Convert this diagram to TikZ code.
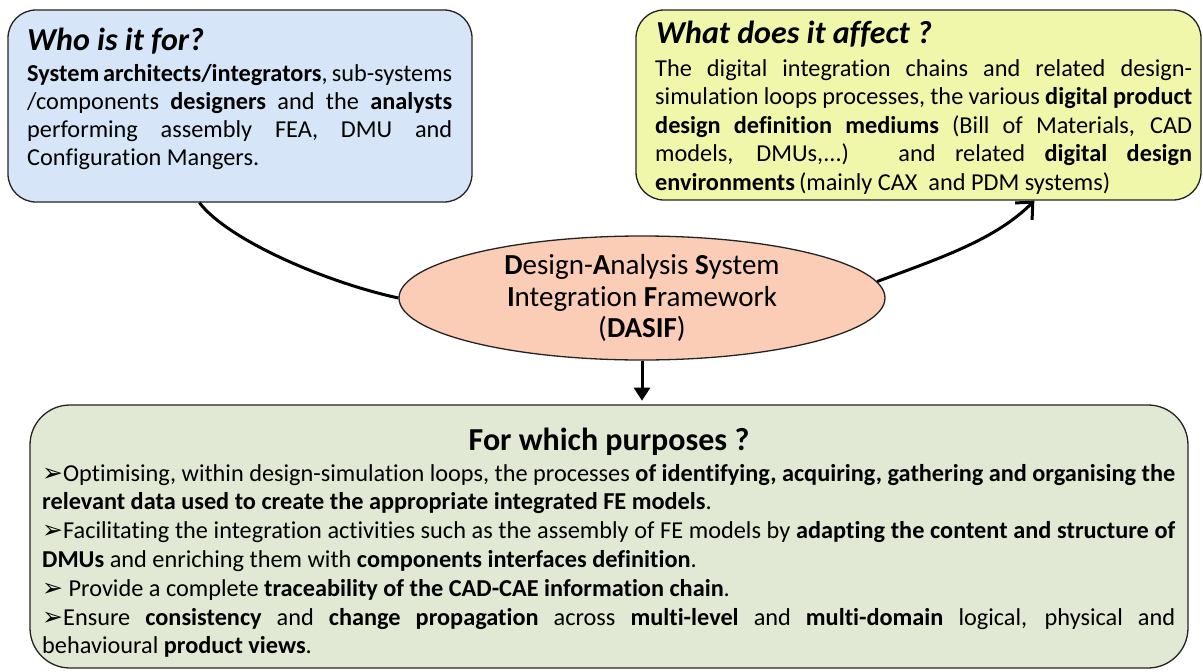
\documentclass[tikz,border=0pt]{standalone}
\usepackage{fontspec}
\setmainfont{Carlito}[Ligatures=NoCommon]
\newfontfamily\symfont{DejaVu Sans}
\usetikzlibrary{arrows.meta,shapes.geometric,calc}
\definecolor{boxblue}{RGB}{214,230,248}
\definecolor{boxyellow}{RGB}{240,247,170}
\definecolor{ellpeach}{RGB}{251,205,182}
\definecolor{boxgreen}{RGB}{225,232,211}
\definecolor{edgegray}{RGB}{35,35,35}
\newcommand{\blt}{{\symfont\fontsize{25}{25}\selectfont ➢}}
\newcommand{\jline}[1]{\makebox[\linewidth][s]{#1}\\}
\tikzset{
  panel/.style={draw=edgegray, line width=1.3pt, rounded corners=#1, inner sep=0pt},
  txt/.style={inner sep=0pt, anchor=base west},
  conn/.style={draw=black, line width=3pt},
}
\begin{document}
\begin{tikzpicture}[x=1pt,y=-1pt]
\useasboundingbox (0,0) rectangle (1203,672);
% panels
\node[panel=28, fill=boxblue, minimum width=464pt, minimum height=192pt] (who) at (240,106) {};
\node[panel=28, fill=boxyellow, minimum width=565pt, minimum height=190pt] (what) at (918.5,105) {};
\node[panel=40, fill=boxgreen, minimum width=1158pt, minimum height=263pt] (purp) at (609,536.5) {};
\node[ellipse, draw=edgegray, line width=1.3pt, fill=ellpeach, minimum width=486pt, minimum height=124pt, inner sep=0pt, align=center, font=\fontsize{29}{31.5}\selectfont] (dasif) at (642,298)
  {\textbf{D}esign-\textbf{A}nalysis \textbf{S}ystem\\ \textbf{I}ntegration \textbf{F}ramework\\ (\textbf{DASIF})};

% blue box text
\node[txt, font=\fontsize{32}{36}\selectfont\bfseries\itshape] (whotitle) at (27,50) {Who is it for?};
\node[txt] (whobody) at (27,81) {\parbox[t]{425pt}{\fontsize{24.3}{28}\selectfont
\jline{\textbf{System architects/integrators}, sub-systems}
\jline{/components \textbf{designers} and the \textbf{analysts}}
\jline{performing assembly FEA, DMU and}
Configuration Mangers.}};

% yellow box text
\node[txt, font=\fontsize{32}{36}\selectfont\bfseries\itshape] (whattitle) at (656,43) {What does it affect ?};
\node[txt] (whatbody) at (655,76) {\parbox[t]{537pt}{\fontsize{24.3}{28.5}\selectfont
\jline{The digital integration chains and related design-}
\jline{simulation loops processes, the various \textbf{digital product}}
\jline{\textbf{design definition mediums} (Bill of Materials, CAD}
\jline{models, DMUs,...) and related \textbf{digital design}}
\textbf{environments}\,(mainly CAX\ \ and PDM systems)}};

% green box text
\node[inner sep=0pt, anchor=base, font=\fontsize{32}{36}\selectfont\bfseries] (purptitle) at (609,450) {For which purposes ?};
\node[txt] (purpbody) at (42,481) {\parbox[t]{1133pt}{\fontsize{24.3}{28.8}\selectfont
\jline{\blt Optimising, within design-simulation loops, the processes \textbf{of identifying, acquiring, gathering and organising the}}
\textbf{relevant data used to create the appropriate integrated FE models}.\\
\jline{\blt Facilitating the integration activities such as the assembly of FE models by \textbf{adapting the content and structure of}}
\textbf{DMUs} and enriching them with \textbf{components interfaces definition}.\\
\blt\ Provide a complete \textbf{traceability of the CAD-CAE information chain}.\\
\jline{\blt Ensure \textbf{consistency} and \textbf{change propagation} across \textbf{multi-level} and \textbf{multi-domain} logical, physical and}
behavioural \textbf{product views}.}};

% connectors
\coordinate (lstart) at ($(who.south west)+(192,0)$);
\coordinate (rtip) at ($(what.south west)+(399,0)$);
\coordinate (dtip) at ($(dasif.south)+(0,40)$);
\draw[conn] (lstart) .. controls (228,240) and (325,282) .. (dasif.west);
\draw[conn, -{Straight Barb[length=13pt,width=24pt,line width=3pt]}] (dasif.4) .. controls (940,258) and (995,240) .. (rtip);
\draw[conn, -{Triangle[length=13pt,width=16pt]}] (dasif.south) -- (dtip);
\end{tikzpicture}
\end{document}
